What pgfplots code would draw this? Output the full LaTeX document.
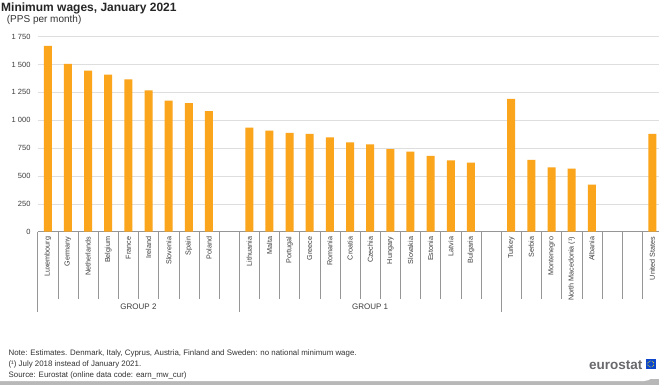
\documentclass[border=0pt]{standalone}
\usepackage{pgfplots}
\pgfplotsset{compat=1.18}
\usetikzlibrary{calc}
\usepackage{fontspec}
\setmainfont{Liberation Sans}
\definecolor{esorange}{RGB}{250,165,27}
\definecolor{gridgray}{RGB}{222,222,222}
\definecolor{axgray}{RGB}{150,150,150}
\definecolor{txtgray}{RGB}{60,60,60}
\definecolor{eublue}{RGB}{14,71,203}
\definecolor{logogray}{RGB}{105,105,110}
\begin{document}
\begin{tikzpicture}[x=1bp,y=1bp]
\useasboundingbox (0,0) rectangle (659,385);
\fill[black!28] (0,0) rectangle (659,6);
\fill[white, rounded corners=12bp] (-20,4) rectangle (656,400);
\begin{scope}
\clip (0,0) rectangle (659,385);
\begin{axis}[
  at={(37.7bp,153.3bp)}, anchor=south west,
  scale only axis, width=624.65bp, height=195bp,
  xmin=-0.5, xmax=30.5, ymin=0, ymax=1750,
  clip=false,
  separate axis lines,
  axis x line*=bottom, axis y line*=left,
  y axis line style={draw=none},
  x axis line style={-, draw=axgray, line width=0.6pt},
  ytick={0,250,...,1750},
  ymajorgrids, grid style={gridgray, line width=0.6pt},
  major tick length=0pt,
  ytick style={draw=none},
  yticklabel style={anchor=east, inner sep=0pt, xshift=-7bp, font=\fontsize{7.5bp}{9bp}\selectfont, text=txtgray},
  /pgf/number format/.cd, 1000 sep={\ }, assume math mode=true, /pgfplots/.cd,
  xtick={0,...,30},
  xticklabels={Luxembourg,Germany,Netherlands,Belgium,France,Ireland,Slovenia,Spain,Poland,{},Lithuania,Malta,Portugal,Greece,Romania,Croatia,Czechia,Hungary,Slovakia,Estonia,Latvia,Bulgaria,{},Turkey,Serbia,Montenegro,North Macedonia (¹),Albania,{},{},United States},
  xticklabel style={rotate=90, anchor=east, inner sep=0pt, font=\fontsize{7.2bp}{8bp}\selectfont, text=txtgray},
  xticklabel shift=5bp,
  xtick align=outside,
  minor xtick={0.5,1.5,...,29.5},
  minor tick length=67.3bp,
  minor x tick style={draw=axgray, line width=0.5pt},
  extra x ticks={-0.5,9.5,22.5},
  extra x tick labels={},
  extra x tick style={major tick length=80.3bp, xtick align=outside, tick style={draw=axgray, line width=0.5pt}},
]
\addplot[ybar, bar width=8bp, fill=esorange, draw=none] coordinates {
(0,1667)(1,1505)(2,1445)(3,1409)(4,1368)(5,1269)(6,1176)(7,1153)(8,1083)
(10,934)(11,907)(12,886)(13,877)(14,847)(15,802)(16,784)(17,740)(18,718)(19,680)(20,641)(21,620)
(23,1191)(24,644)(25,578)(26,566)(27,422)
(30,877)};
\node[font=\fontsize{8bp}{9bp}\selectfont, text=txtgray] at ([yshift=-75.5bp]axis cs:4.5,0) {GROUP 2};
\node[font=\fontsize{8bp}{9bp}\selectfont, text=txtgray] at ([yshift=-75.5bp]axis cs:16,0) {GROUP 1};
\end{axis}
\end{scope}
\node[anchor=base west, inner sep=0pt, font=\bfseries\fontsize{12bp}{14bp}\selectfont, text=black!85] at (1,374) {Minimum wages, January 2021};
\node[anchor=base west, inner sep=0pt, font=\fontsize{10bp}{12bp}\selectfont, text=black!80] at (6.7,362.3) {(PPS per month)};
\begin{scope}[every node/.style={anchor=base west, inner sep=0pt, font=\fontsize{7.9bp}{9bp}\selectfont, text=black!80}]
\node at (8.4,30) {Note: Estimates. Denmark, Italy, Cyprus, Austria, Finland and Sweden: no national minimum wage.};
\node at (8.4,19) {(¹) July 2018 instead of January 2021.};
\node at (8.4,8) {Source: Eurostat (online data code: earn\_mw\_cur)};
\end{scope}
\node[anchor=base west, inner sep=0pt, font=\bfseries\fontsize{13.5bp}{15bp}\selectfont, text=logogray] at (589,16) {eurostat};
\fill[eublue] (645.5,16) rectangle (656,26);
\foreach \a in {0,30,...,330} \fill[yellow!90!orange] ($(650.75,21)+(\a:3bp)$) circle (0.45bp);
\end{tikzpicture}
\end{document}
